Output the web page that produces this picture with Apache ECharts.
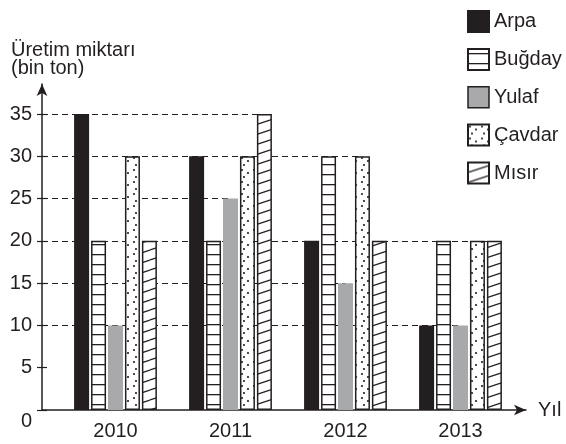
<!DOCTYPE html>
<html><head><meta charset="utf-8">
<script src="https://cdn.jsdelivr.net/npm/echarts@6/dist/echarts.min.js"></script>
<style>html,body{margin:0;padding:0;background:#fff}#c{width:566px;height:444px}</style>
</head><body><div id="c"></div>
<script>
// ---- data ----
const years = ['2010', '2011', '2012', '2013'];
const seriesNames = ['Arpa', 'Buğday', 'Yulaf', 'Çavdar', 'Mısır'];
const arpa = [35, 30, 20, 10];
const bugday = [20, 20, 30, 20];
const yulaf = [10, 25, 15, 10];
const cavdar = [30, 30, 30, 20];
const misir = [20, 35, 20, 20];
const yTicks = [0, 5, 10, 15, 20, 25, 30, 35];
const axisTitle = 'Üretim miktarı\n(bin ton)';
const xName = 'Yıl';

// ---- styles ----
const INK = '#231f20';
const GRAY = '#a7a9ab';
const FONT = 'Liberation Sans, Arial, sans-serif';
const AXIS_X = 42;

function mk(w, h, draw) {
  const c = document.createElement('canvas');
  c.width = w; c.height = h;
  const g = c.getContext('2d');
  g.fillStyle = '#fff'; g.fillRect(0, 0, w, h);
  draw(g);
  return { image: c, repeat: 'repeat' };
}
const hLines = mk(10, 10, g => { g.fillStyle = INK; g.fillRect(0, 4, 10, 1.3); });
const diag = mk(30, 10, g => {
  g.strokeStyle = INK; g.lineWidth = 1.2;
  for (let k = -1; k <= 1; k++) { g.beginPath(); g.moveTo(0, 10 + k * 10); g.lineTo(30, k * 10); g.stroke(); }
});
const dots = mk(12, 12, g => {
  g.fillStyle = INK;
  [[2, 2], [8, 5], [4, 9]].forEach(([x, y]) => { g.beginPath(); g.arc(x, y, 1.1, 0, Math.PI * 2); g.fill(); });
});

const values = [arpa, bugday, yulaf, cavdar, misir];
const fills = [INK, hLines, GRAY, dots, diag];
const borders = [INK, INK, GRAY, INK, INK];

// dashed guide lines: from the y axis to the right-most bar reaching each tick level
const guideEnds = {};
yTicks.forEach(level => {
  if (level === 0) return;
  let end = null;
  years.forEach((y, ci) => values.forEach((vals, si) => { if (vals[ci] === level) end = [ci, si]; }));
  if (end) (guideEnds[end[1]] = guideEnds[end[1]] || []).push([end[0], level]);
});

const series = seriesNames.map((name, si) => ({
  name, type: 'bar', xAxisIndex: 2, yAxisIndex: 3,
  data: values[si], barWidth: 15, barGap: '13%', z: 2,
  itemStyle: { color: fills[si], borderColor: borders[si], borderWidth: 1.5 },
  emphasis: { disabled: true },
  markLine: {
    silent: true, z: 1, animation: false, symbol: ['none', 'none'],
    label: { show: false }, emphasis: { disabled: true },
    lineStyle: { type: [6, 4], color: INK, width: 1 },
    data: (guideEnds[si] || []).map(([ci, lv]) => [{ coord: [ci, lv], x: AXIS_X }, { coord: [ci, lv] }])
  }
}));

const chart = echarts.init(document.getElementById('c'));
chart.setOption({
  animation: false,
  textStyle: { fontFamily: FONT, color: INK },
  title: { text: axisTitle, left: 6, top: 36, textStyle: { fontSize: 20, fontWeight: 'normal', color: INK, lineHeight: 18, fontFamily: FONT } },
  legend: {
    orient: 'vertical', left: 462, top: 5, itemWidth: 21, itemHeight: 21, itemGap: 15, icon: 'rect',
    textStyle: { fontSize: 20, color: INK, fontFamily: FONT },
    data: seriesNames.map((n, i) => i === 2 ? { name: n, itemStyle: { borderColor: INK, borderWidth: 1.5 } } : n)
  },
  grid: [
    { left: AXIS_X, right: 40, top: 84, bottom: 34 },
    { left: AXIS_X, right: 40, top: 114, bottom: 34 },
    { left: 58, right: 48, top: 114, bottom: 34 }
  ],
  xAxis: [
    { gridIndex: 0, type: 'value', min: 0, max: 1,
      axisLine: { show: true, symbol: ['none', 'arrow'], symbolSize: [8, 12], lineStyle: { color: INK, width: 1.5 } },
      axisTick: { show: false }, axisLabel: { show: false }, splitLine: { show: false },
      name: xName, nameLocation: 'end', nameGap: 12, nameTextStyle: { fontSize: 20, color: INK, fontFamily: FONT } },
    { gridIndex: 1, type: 'value', show: false },
    { gridIndex: 2, type: 'category', data: years,
      axisLine: { show: false }, axisTick: { show: false },
      axisLabel: { fontSize: 20, color: INK, margin: 11, fontFamily: FONT } }
  ],
  yAxis: [
    { gridIndex: 0, type: 'value', min: 0, max: 1,
      axisLine: { show: true, symbol: ['none', 'arrow'], symbolSize: [8, 12], lineStyle: { color: INK, width: 1.5 } },
      axisTick: { show: false }, axisLabel: { show: false }, splitLine: { show: false } },
    { gridIndex: 1, type: 'value', position: 'left', min: 0, max: 35, interval: 5,
      axisLine: { show: false }, splitLine: { show: false },
      axisTick: { show: true, length: 5, lineStyle: { color: INK, width: 1.2 } },
      axisLabel: { fontSize: 20, color: INK, margin: 10, fontFamily: FONT,
        formatter: v => v === 0 ? '{z|0}' : String(v),
        rich: { z: { fontSize: 20, color: INK, fontFamily: FONT, padding: [22, 0, 0, 0] } } } },
    { gridIndex: 1, type: 'value', position: 'left', min: 0, max: 35, interval: 5,
      axisLine: { show: false }, splitLine: { show: false }, axisLabel: { show: false },
      axisTick: { show: true, inside: true, length: 5, lineStyle: { color: INK, width: 1.2 } } },
    { gridIndex: 2, type: 'value', min: 0, max: 35, show: false }
  ],
  series
});
</script>
</body></html>
